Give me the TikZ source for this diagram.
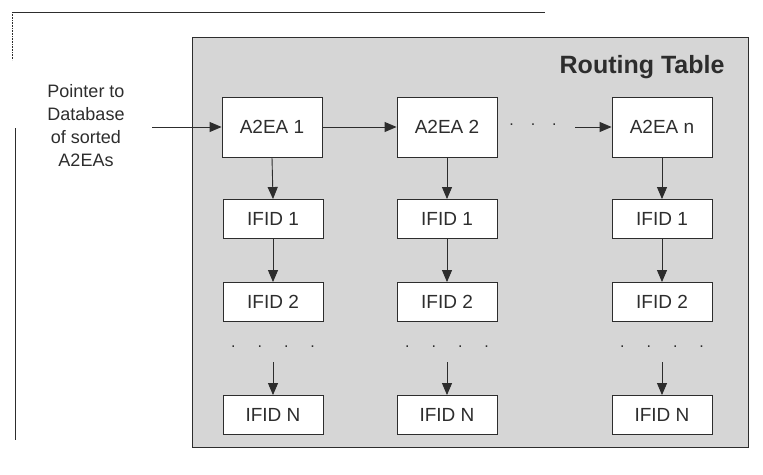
\documentclass[tikz,border=0pt]{standalone}
\usepackage{fontspec}
\setmainfont{Liberation Sans}
\usetikzlibrary{arrows.meta}
\definecolor{panel}{RGB}{214,214,214}
\definecolor{ink}{RGB}{45,45,45}
\begin{document}
\begin{tikzpicture}[x=1pt,y=-1pt,
  cell/.style={draw=ink,line width=0.9pt,fill=white,minimum width=100pt,font=\fontsize{19}{22}\selectfont,text=ink},
  head/.style={cell,minimum height=60pt},
  idbox/.style={cell,minimum height=39pt},
  link/.style={draw=ink,line width=0.9pt,-{Triangle[length=12pt,width=10pt]}},
  dots/.style={font=\fontsize{16}{18}\selectfont,text=ink}]
\useasboundingbox (0,0) rectangle (763,474);
% outer frame
\draw[ink,line width=0.8pt] (12,12) -- (545,12);
\draw[ink,line width=0.6pt,densely dotted] (12,12) -- (12,60);
\draw[ink,line width=0.8pt] (15,128) -- (15,440);
% panel
\draw[ink,line width=0.8pt,fill=panel] (192,37) rectangle (748,447);
\node[anchor=east,font=\bfseries\fontsize{25}{28}\selectfont,text=ink] (title) at (728,67) {Routing Table};
% pointer text
\node[align=center,font=\fontsize{18}{23}\selectfont,text=ink] (ptr) at (86,126) {Pointer to\\Database\\of sorted\\A2EAs};
% heads
\node[head] (a1) at (272,127) {A2EA 1};
\node[head] (a2) at (447,127) {A2EA 2};
\node[head] (an) at (662,127) {A2EA n};
% IFID rows
\foreach \c/\x in {1/273,2/447,3/662}{
  \node[idbox] (f1\c) at (\x,219) {IFID 1};
  \node[idbox] (f2\c) at (\x,302) {IFID 2};
  \node[idbox] (fn\c) at (\x,415) {IFID N};
  \node[dots] (d\c) at (\x,347) {.\hspace{22pt}.\hspace{22pt}.\hspace{22pt}.};
  \coordinate (s\c) at (\x,362);
}
\node[dots] (hd) at (533,125) {.\hspace{17pt}.\hspace{17pt}.};
\coordinate (hs) at (575,127);
% connectors
\coordinate (p0) at (152,127);
\draw[link] (p0) -- (a1.west);
\draw[link] (a1.east) -- (a2.west);
\draw[link] (hs) -- (an.west);
\draw[link] (a1.south) -- (f11.north);
\draw[link] (a2.south) -- (f12.north);
\draw[link] (an.south) -- (f13.north);
\foreach \c in {1,2,3}{
  \draw[link] (f1\c.south) -- (f2\c.north);
  \draw[link] (s\c) -- (fn\c.north);
}
\end{tikzpicture}
\end{document}
